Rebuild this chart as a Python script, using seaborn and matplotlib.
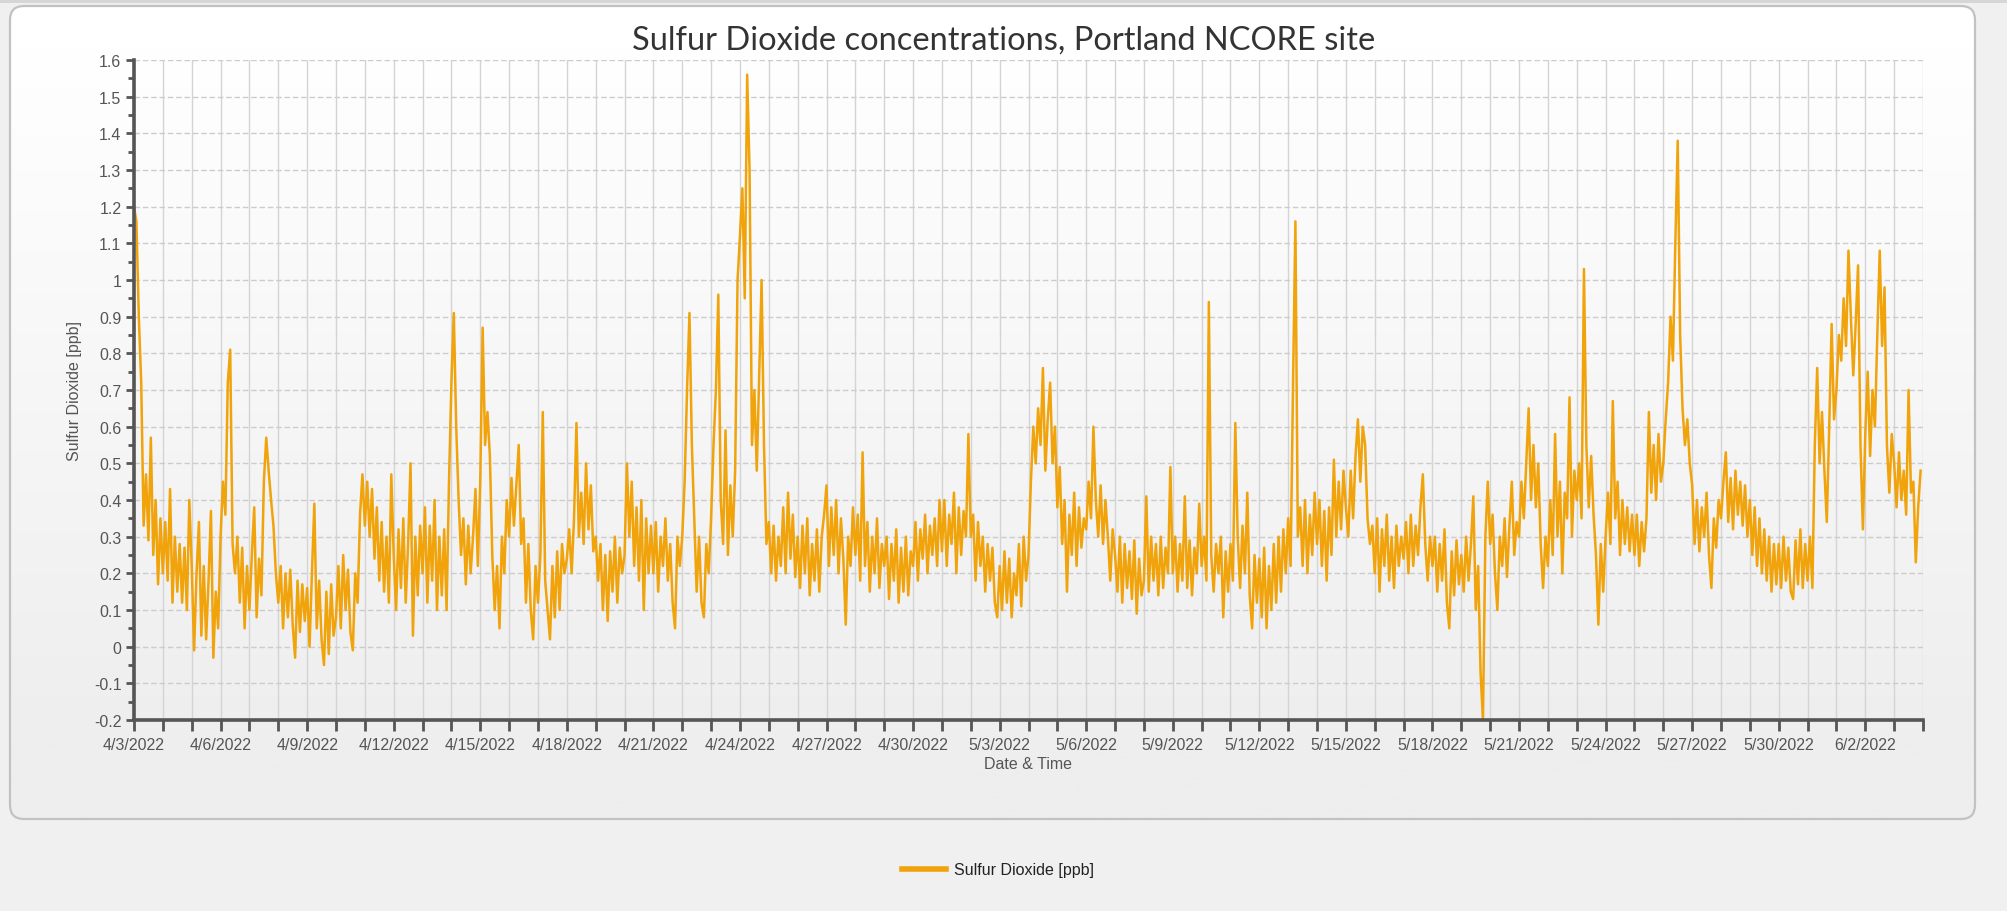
import numpy as np
import pandas as pd
import matplotlib
matplotlib.use("Agg")
import matplotlib.pyplot as plt
import matplotlib.dates as mdates
from matplotlib.patches import FancyBboxPatch, Rectangle
from matplotlib.lines import Line2D
from matplotlib.ticker import MultipleLocator, FuncFormatter
from matplotlib.colors import LinearSegmentedColormap
import seaborn as sns

# ---------------- data (2-hourly readings, 12 per day) ----------------
START = "2022-04-03"
week1 = [  # 4/3 - 4/9
    1.20, 1.16, 0.90, 0.72, 0.33, 0.47, 0.29, 0.57, 0.25, 0.40, 0.17, 0.35,
    0.20, 0.34, 0.18, 0.43, 0.12, 0.30, 0.15, 0.28, 0.12, 0.27, 0.10, 0.40,
    0.22, -0.01, 0.20, 0.34, 0.03, 0.22, 0.02, 0.18, 0.37, -0.03, 0.15, 0.05,
    0.30, 0.45, 0.36, 0.72, 0.81, 0.28, 0.20, 0.30, 0.12, 0.27, 0.05, 0.22,
    0.10, 0.25, 0.38, 0.08, 0.24, 0.14, 0.45, 0.57, 0.48, 0.40, 0.33, 0.20,
    0.12, 0.22, 0.05, 0.20, 0.08, 0.21, 0.06, -0.03, 0.18, 0.04, 0.17, 0.07,
    0.16, 0.00, 0.20, 0.39, 0.05, 0.18, 0.02, -0.05, 0.15, -0.02, 0.17, 0.03,
]
week2 = [  # 4/10 - 4/16
    0.08, 0.22, 0.05, 0.25, 0.10, 0.21, 0.04, -0.01, 0.20, 0.12, 0.36, 0.47,
    0.33, 0.45, 0.30, 0.43, 0.24, 0.38, 0.18, 0.34, 0.15, 0.30, 0.12, 0.47,
    0.25, 0.10, 0.32, 0.16, 0.35, 0.12, 0.28, 0.50, 0.03, 0.30, 0.14, 0.33,
    0.20, 0.38, 0.12, 0.33, 0.18, 0.40, 0.10, 0.30, 0.14, 0.32, 0.10, 0.45,
    0.72, 0.91, 0.60, 0.40, 0.25, 0.35, 0.17, 0.33, 0.20, 0.30, 0.43, 0.22,
    0.45, 0.87, 0.55, 0.64, 0.52, 0.25, 0.10, 0.22, 0.05, 0.30, 0.20, 0.40,
    0.30, 0.46, 0.33, 0.44, 0.55, 0.28, 0.35, 0.12, 0.28, 0.10, 0.02, 0.22,
]
week3 = [  # 4/17 - 4/23
    0.12, 0.25, 0.64, 0.18, 0.10, 0.02, 0.22, 0.08, 0.26, 0.10, 0.28, 0.20,
    0.24, 0.32, 0.20, 0.35, 0.61, 0.30, 0.42, 0.28, 0.50, 0.32, 0.44, 0.26,
    0.30, 0.18, 0.28, 0.10, 0.25, 0.07, 0.26, 0.15, 0.30, 0.12, 0.27, 0.20,
    0.25, 0.50, 0.30, 0.45, 0.22, 0.38, 0.18, 0.40, 0.10, 0.35, 0.20, 0.33,
    0.20, 0.34, 0.15, 0.30, 0.22, 0.35, 0.18, 0.28, 0.12, 0.05, 0.30, 0.22,
    0.30, 0.45, 0.70, 0.91, 0.55, 0.35, 0.15, 0.30, 0.12, 0.08, 0.28, 0.20,
    0.35, 0.55, 0.70, 0.96, 0.40, 0.28, 0.59, 0.25, 0.44, 0.30, 0.48, 1.00,
]
week4 = [  # 4/24 - 4/30
    1.12, 1.25, 0.95, 1.56, 1.30, 0.55, 0.70, 0.48, 0.74, 1.00, 0.55, 0.28,
    0.34, 0.20, 0.33, 0.18, 0.30, 0.22, 0.38, 0.20, 0.42, 0.24, 0.36, 0.19,
    0.30, 0.16, 0.33, 0.20, 0.35, 0.14, 0.28, 0.18, 0.32, 0.15, 0.30, 0.36,
    0.44, 0.22, 0.38, 0.25, 0.40, 0.20, 0.35, 0.24, 0.06, 0.30, 0.22, 0.38,
    0.25, 0.36, 0.18, 0.53, 0.22, 0.34, 0.15, 0.30, 0.20, 0.35, 0.16, 0.28,
    0.22, 0.30, 0.13, 0.28, 0.18, 0.32, 0.12, 0.27, 0.15, 0.30, 0.14, 0.26,
    0.22, 0.34, 0.18, 0.32, 0.24, 0.36, 0.20, 0.33, 0.25, 0.35, 0.22, 0.40,
]
week5 = [  # 5/1 - 5/7
    0.26, 0.40, 0.22, 0.36, 0.28, 0.42, 0.20, 0.38, 0.25, 0.37, 0.30, 0.58,
    0.30, 0.36, 0.18, 0.34, 0.22, 0.30, 0.15, 0.28, 0.18, 0.27, 0.12, 0.08,
    0.22, 0.10, 0.26, 0.12, 0.24, 0.08, 0.20, 0.14, 0.28, 0.11, 0.30, 0.18,
    0.25, 0.45, 0.60, 0.50, 0.65, 0.55, 0.76, 0.48, 0.62, 0.72, 0.50, 0.60,
    0.38, 0.49, 0.28, 0.40, 0.15, 0.36, 0.25, 0.42, 0.22, 0.38, 0.27, 0.35,
    0.32, 0.45, 0.35, 0.60, 0.40, 0.30, 0.44, 0.28, 0.40, 0.30, 0.18, 0.32,
    0.25, 0.15, 0.30, 0.12, 0.28, 0.16, 0.26, 0.13, 0.29, 0.09, 0.24, 0.14,
]
week6 = [  # 5/8 - 5/14
    0.18, 0.41, 0.15, 0.30, 0.18, 0.28, 0.14, 0.30, 0.16, 0.27, 0.20, 0.49,
    0.20, 0.30, 0.15, 0.28, 0.18, 0.41, 0.16, 0.29, 0.14, 0.27, 0.20, 0.39,
    0.22, 0.30, 0.18, 0.94, 0.25, 0.15, 0.28, 0.20, 0.30, 0.08, 0.26, 0.15,
    0.28, 0.18, 0.61, 0.30, 0.16, 0.33, 0.20, 0.42, 0.14, 0.05, 0.25, 0.12,
    0.24, 0.08, 0.27, 0.05, 0.22, 0.10, 0.28, 0.12, 0.30, 0.15, 0.32, 0.20,
    0.35, 0.22, 0.71, 1.16, 0.30, 0.38, 0.22, 0.40, 0.20, 0.36, 0.25, 0.42,
    0.28, 0.40, 0.22, 0.37, 0.18, 0.38, 0.25, 0.51, 0.30, 0.45, 0.32, 0.48,
]
week7 = [  # 5/15 - 5/21
    0.38, 0.30, 0.48, 0.35, 0.52, 0.62, 0.45, 0.60, 0.55, 0.35, 0.28, 0.33,
    0.20, 0.35, 0.15, 0.32, 0.22, 0.36, 0.18, 0.30, 0.16, 0.33, 0.22, 0.30,
    0.24, 0.34, 0.20, 0.36, 0.22, 0.33, 0.25, 0.38, 0.47, 0.28, 0.18, 0.30,
    0.22, 0.30, 0.15, 0.28, 0.18, 0.32, 0.12, 0.05, 0.26, 0.14, 0.29, 0.17,
    0.25, 0.15, 0.30, 0.18, 0.28, 0.41, 0.10, 0.22, -0.07, -0.20, 0.30, 0.45,
    0.28, 0.36, 0.20, 0.10, 0.30, 0.22, 0.35, 0.19, 0.33, 0.45, 0.25, 0.34,
    0.30, 0.45, 0.35, 0.50, 0.65, 0.40, 0.55, 0.38, 0.50, 0.28, 0.16, 0.30,
]
week8 = [  # 5/22 - 5/28
    0.22, 0.40, 0.25, 0.58, 0.30, 0.45, 0.20, 0.42, 0.35, 0.68, 0.30, 0.48,
    0.40, 0.50, 0.35, 1.03, 0.55, 0.38, 0.52, 0.36, 0.25, 0.06, 0.28, 0.15,
    0.30, 0.42, 0.28, 0.67, 0.35, 0.45, 0.25, 0.40, 0.28, 0.38, 0.26, 0.36,
    0.25, 0.36, 0.22, 0.34, 0.26, 0.35, 0.64, 0.42, 0.55, 0.40, 0.58, 0.45,
    0.50, 0.62, 0.72, 0.90, 0.78, 1.10, 1.38, 0.85, 0.65, 0.55, 0.62, 0.50,
    0.44, 0.28, 0.40, 0.26, 0.38, 0.30, 0.42, 0.25, 0.16, 0.35, 0.27, 0.40,
    0.35, 0.45, 0.53, 0.34, 0.46, 0.32, 0.48, 0.36, 0.45, 0.33, 0.44, 0.30,
]
week9 = [  # 5/29 - 6/3
    0.40, 0.25, 0.38, 0.22, 0.35, 0.20, 0.32, 0.18, 0.30, 0.15, 0.28, 0.17,
    0.28, 0.16, 0.30, 0.18, 0.27, 0.15, 0.13, 0.29, 0.17, 0.32, 0.16, 0.28,
    0.18, 0.30, 0.16, 0.55, 0.76, 0.50, 0.64, 0.48, 0.34, 0.60, 0.88, 0.62,
    0.70, 0.85, 0.78, 0.95, 0.82, 1.08, 0.90, 0.74, 0.88, 1.04, 0.55, 0.32,
    0.58, 0.75, 0.52, 0.70, 0.60, 0.85, 1.08, 0.82, 0.98, 0.55, 0.42, 0.58,
    0.50, 0.38, 0.53, 0.40, 0.48, 0.36, 0.70, 0.42, 0.45, 0.23, 0.38, 0.48,
]

TITLE = "Sulfur Dioxide concentrations, Portland NCORE site"
SERIES = "Sulfur Dioxide [ppb]"
Y_TICKS = [-0.2, -0.1, 0, 0.1, 0.2, 0.3, 0.4, 0.5, 0.6, 0.7, 0.8, 0.9, 1, 1.1, 1.2, 1.3, 1.4, 1.5, 1.6]

values = week1 + week2 + week3 + week4 + week5 + week6 + week7 + week8 + week9
times = pd.date_range(START, periods=len(values), freq="2h")
df = pd.DataFrame({"Date & Time": times, SERIES: values})

# ---------------- figure ----------------
W, H = 2008, 912
fig = plt.figure(figsize=(W / 100, H / 100), dpi=100)
fig.patch.set_facecolor("#f0f0f0")

LINE_COLOR = "#F0A30A"
GRAY = "#555555"

# background panel with gradient
bg = fig.add_axes([0, 0, 1, 1], zorder=-10)
bg.set_xlim(0, W)
bg.set_ylim(H, 0)
bg.axis("off")
bg.add_patch(Rectangle((0, 0), W, 4, facecolor="#d6d6d6", edgecolor="none"))
px0, py0, px1, py1 = 10, 7, 1975, 820
panel = FancyBboxPatch((px0, py0), px1 - px0, py1 - py0,
                       boxstyle="round,pad=0,rounding_size=14",
                       facecolor="none", edgecolor="#c2c2c2", lw=1.6, zorder=3)
bg.add_patch(panel)
rows = np.linspace(0, 1, 300)
shade = np.clip((rows - 0.05) / 0.85, 0, 1)[:, None]
cmap = LinearSegmentedColormap.from_list("g", ["#ffffff", "#eeeeee"])
im = bg.imshow(shade, extent=(px0, px1, py1, py0), cmap=cmap, aspect="auto",
               vmin=0, vmax=1, zorder=1)
clip = FancyBboxPatch((px0, py0), px1 - px0, py1 - py0,
                      boxstyle="round,pad=0,rounding_size=14",
                      transform=bg.transData, facecolor="none", edgecolor="none")
im.set_clip_path(clip)

# main axes
L, R, T, B = 134, 1923, 61, 721
ax = fig.add_axes([L / W, 1 - B / H, (R - L) / W, (B - T) / H], zorder=1)
ax.set_facecolor("none")

sns.lineplot(data=df, x="Date & Time", y=SERIES, ax=ax, color=LINE_COLOR,
             linewidth=1.8, estimator=None, legend=False)

start = pd.Timestamp(START)
ax.set_xlim(start, start + pd.Timedelta(days=62))
ax.set_ylim(-0.2, 1.6)

ax.xaxis.set_major_locator(mdates.DayLocator())
def xfmt(v, pos):
    d = mdates.num2date(v).replace(tzinfo=None)
    idx = (pd.Timestamp(d).normalize() - start).days
    if idx % 3 == 0:
        return f"{d.month}/{d.day}/{d.year}"
    return ""
ax.xaxis.set_major_formatter(FuncFormatter(xfmt))
ax.set_yticks(Y_TICKS)
ax.yaxis.set_minor_locator(MultipleLocator(0.05))
ax.yaxis.set_major_formatter(FuncFormatter(lambda v, p: f"{v:g}" if abs(v) > 1e-9 else "0"))

for s in ["top", "right"]:
    ax.spines[s].set_visible(False)
for s in ["left", "bottom"]:
    ax.spines[s].set_color(GRAY)
    ax.spines[s].set_linewidth(2.6)

ax.tick_params(axis="x", which="major", length=8, width=2, color=GRAY,
               labelsize=11.5, labelcolor=GRAY, pad=4)
ax.tick_params(axis="y", which="major", length=6, width=2, color=GRAY,
               labelsize=11.5, labelcolor=GRAY, pad=3)
ax.tick_params(axis="y", which="minor", length=4, width=2, color=GRAY)

ax.grid(False)
ax.xaxis.grid(True, which="major", color="#d4d4d4", linewidth=1.0, linestyle="-")
ax.yaxis.grid(True, which="major", color="#cccccc", linewidth=1.0, linestyle=(0, (4, 2)))
ax.set_axisbelow(True)

ax.set_xlabel("Date & Time", fontsize=11.5, color=GRAY)
ax.xaxis.set_label_coords(0.5, -0.054)
ax.set_ylabel(SERIES, fontsize=11.5, color=GRAY)
ax.yaxis.set_label_coords(-0.029, 0.5)

fig.text(0.5, 1 - 41 / H, TITLE, ha="center", va="center", fontsize=23.5,
         color="#333333", family=["Lato", "DejaVu Sans"])

handle = Line2D([0], [0], color=LINE_COLOR, lw=4)
fig.legend(handles=[handle], labels=[SERIES], loc="center",
           bbox_to_anchor=(998 / W, 1 - 871 / H), frameon=False,
           fontsize=11.5, handlelength=2.75, handletextpad=0.55,
           labelcolor="#222222")

for t in ax.get_xticklabels() + ax.get_yticklabels():
    t.set_family(["Liberation Sans", "DejaVu Sans"])
ax.xaxis.label.set_family(["Liberation Sans", "DejaVu Sans"])
ax.yaxis.label.set_family(["Liberation Sans", "DejaVu Sans"])
for t in fig.legends[0].get_texts():
    t.set_family(["Liberation Sans", "DejaVu Sans"])

fig.savefig("out.png", dpi=100, facecolor=fig.get_facecolor())
